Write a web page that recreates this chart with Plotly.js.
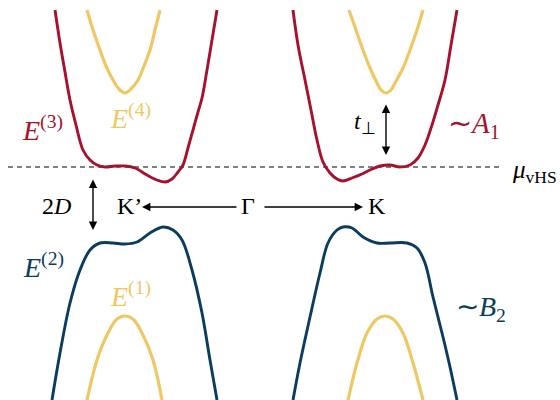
<!DOCTYPE html>
<html>
<head>
<meta charset="utf-8">
<script src="https://cdn.plot.ly/plotly-3.0.1.min.js"></script>
<style>
  html, body { margin: 0; padding: 0; background: #ffffff; }
  #chart { width: 560px; height: 400px; }
</style>
</head>
<body>
<div id="chart"></div>
<script>
// Schematic bilayer band structure near the K' and K valleys.
// k: momentum (Γ at 0), E: energy measured from the van Hove level μ_vHS.

// E(3): upper bonding band, K' valley
const e3KpK = [-1.99, -1.94, -1.89, -1.84, -1.78, -1.71, -1.64, -1.57, -1.49, -1.39, -1.29, -1.19, -1.07, -0.97, -0.89, -0.82, -0.76, -0.71, -0.66, -0.61, -0.56, -0.52, -0.47, -0.42, -0.37];
const e3KpE = [1.57, 1.24, 0.95, 0.67, 0.42, 0.17, 0.07, 0.02, 0.00, 0.01, 0.01, -0.01, -0.08, -0.13, -0.15, -0.12, -0.05, 0.02, 0.19, 0.37, 0.55, 0.69, 0.97, 1.27, 1.57];
// E(3): K valley
const e3KK = [0.39, 0.44, 0.51, 0.57, 0.63, 0.69, 0.76, 0.83, 0.89, 0.98, 1.08, 1.18, 1.26, 1.36, 1.46, 1.56, 1.64, 1.71, 1.78, 1.84, 1.91, 1.97, 2.03];
const e3KE = [1.57, 1.22, 0.87, 0.57, 0.27, 0.05, -0.06, -0.12, -0.14, -0.11, -0.07, -0.02, 0.01, 0.02, 0.00, 0.02, 0.09, 0.22, 0.42, 0.62, 0.87, 1.22, 1.57];

// E(4): highest band
const e4KpK = [-1.67, -1.61, -1.54, -1.48, -1.41, -1.35, -1.29, -1.23, -1.16, -1.10, -1.04, -0.99, -0.94];
const e4KpE = [1.57, 1.37, 1.17, 1.01, 0.87, 0.78, 0.74, 0.78, 0.87, 1.01, 1.17, 1.37, 1.57];
const e4KK = [0.95, 1.02, 1.09, 1.16, 1.23, 1.27, 1.32, 1.37, 1.41, 1.49, 1.56, 1.63, 1.69];
const e4KE = [1.57, 1.37, 1.17, 0.99, 0.84, 0.77, 0.74, 0.77, 0.84, 0.99, 1.17, 1.37, 1.57];

// E(2): lower antibonding band
const e2KpK = [-2.02, -1.94, -1.84, -1.74, -1.64, -1.54, -1.41, -1.29, -1.17, -1.04, -0.91, -0.81, -0.72, -0.62, -0.52, -0.44, -0.37];
const e2KpE = [-2.33, -1.86, -1.36, -1.03, -0.83, -0.76, -0.76, -0.77, -0.75, -0.66, -0.60, -0.63, -0.73, -1.03, -1.46, -1.93, -2.33];
const e2KK = [0.39, 0.46, 0.56, 0.66, 0.74, 0.83, 0.89, 0.98, 1.09, 1.23, 1.36, 1.53, 1.63, 1.71, 1.79, 1.89, 1.96, 2.03];
const e2KE = [-2.33, -1.96, -1.50, -1.06, -0.76, -0.63, -0.60, -0.61, -0.70, -0.76, -0.76, -0.76, -0.81, -0.96, -1.30, -1.70, -2.00, -2.33];

// E(1): lowest band
const e1KpK = [-1.67, -1.57, -1.47, -1.37, -1.29, -1.21, -1.11, -1.01, -0.92];
const e1KpE = [-2.33, -1.93, -1.68, -1.52, -1.49, -1.52, -1.68, -1.93, -2.33];
const e1KK = [0.94, 1.03, 1.13, 1.23, 1.31, 1.39, 1.49, 1.59, 1.69];
const e1KE = [-2.33, -1.96, -1.66, -1.52, -1.49, -1.52, -1.66, -1.96, -2.33];

// van Hove level
const vhsK = [-2.46, 2.46];
const vhsE = [0, 0];

const RED = '#a6122d';
const BLUE = '#0b3c5d';
const GOLD = '#eec864';
const SERIF = 'Liberation Serif';

function band(k, e, color, width) {
  return {
    x: k, y: e, type: 'scatter', mode: 'lines',
    line: { color: color, width: width, shape: 'spline', smoothing: 1 },
    hoverinfo: 'skip', showlegend: false
  };
}

const traces = [
  {
    x: vhsK, y: vhsE, type: 'scatter', mode: 'lines',
    line: { color: '#555555', width: 1.3, dash: '5px,4px' },
    hoverinfo: 'skip', showlegend: false
  },
  band(e4KpK, e4KpE, GOLD, 3.2),
  band(e4KK, e4KE, GOLD, 3.2),
  band(e1KpK, e1KpE, GOLD, 3.2),
  band(e1KK, e1KE, GOLD, 3.2),
  band(e3KpK, e3KpE, RED, 2.9),
  band(e3KK, e3KE, RED, 2.9),
  band(e2KpK, e2KpE, BLUE, 2.9),
  band(e2KK, e2KE, BLUE, 2.9)
];

function label(x, y, text, color, size, xanchor) {
  return {
    x: x, y: y, xref: 'x', yref: 'y', text: text, showarrow: false,
    xanchor: xanchor || 'center', yanchor: 'middle',
    font: { family: SERIF, size: size, color: color }
  };
}

function arrow(x, y, ax, ay, both) {
  return {
    x: x, y: y, ax: ax, ay: ay, xref: 'x', yref: 'y', axref: 'x', ayref: 'y',
    text: '', showarrow: true,
    arrowhead: 2, startarrowhead: 2, arrowside: both ? 'end+start' : 'end',
    arrowsize: 1.2, startarrowsize: 1.2, arrowwidth: 1.4, arrowcolor: '#000000',
    standoff: 0, startstandoff: 0
  };
}

const annotations = [
  label(-2.12, 0.39, '<i>E</i><sup>(3)</sup>', RED, 28),
  label(-1.24, 0.51, '<i>E</i><sup>(4)</sup>', GOLD, 28),
  label(-2.11, -0.98, '<i>E</i><sup>(2)</sup>', BLUE, 28),
  label(-1.24, -1.27, '<i>E</i><sup>(1)</sup>', GOLD, 28),
  label(2.20, 0.42, '∼<i>A</i><sub>1</sub>', RED, 29),
  label(2.27, -1.41, '∼<i>B</i><sub>2</sub>', BLUE, 28),
  label(2.56, -0.04, '<i>μ</i><sub>vHS</sub>', '#000000', 25, 'left'),
  label(1.11, 0.44, '<i>t</i><sub>⊥</sub>', '#000000', 24),
  label(-1.98, -0.39, '2<i>D</i>', '#000000', 24),
  label(-1.25, -0.39, 'K’', '#000000', 24),
  label(-0.06, -0.39, 'Γ', '#000000', 24),
  label(1.23, -0.39, 'K', '#000000', 24),
  arrow(-1.12, -0.40, -0.16, -0.40, false),
  arrow(1.09, -0.40, 0.09, -0.40, false),
  arrow(-1.61, -0.63, -1.61, -0.11, true),
  arrow(1.32, 0.12, 1.32, 0.64, true)
];

const layout = {
  width: 560, height: 400,
  margin: { l: 0, r: 0, t: 0, b: 0 },
  paper_bgcolor: '#ffffff', plot_bgcolor: '#ffffff',
  font: { family: SERIF },
  xaxis: { range: [-2.54, 3.06], visible: false, fixedrange: true },
  yaxis: { range: [-2.33, 1.67], visible: false, fixedrange: true },
  annotations: annotations,
  showlegend: false
};

Plotly.newPlot('chart', traces, layout, { displayModeBar: false });
</script>
</body>
</html>
